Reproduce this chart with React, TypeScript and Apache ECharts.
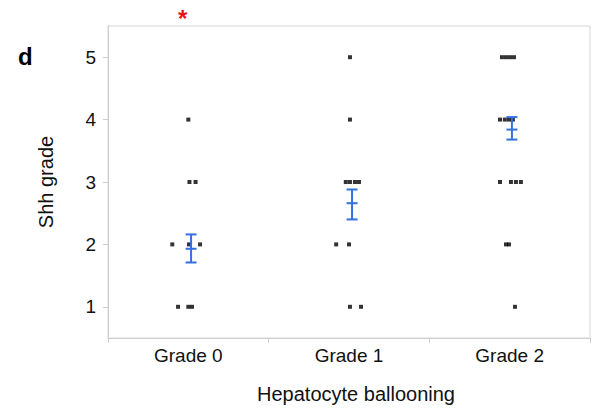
import React, { useEffect, useRef } from "react";
import * as echarts from "echarts";

const categories = ["Grade 0", "Grade 1", "Grade 2"];
const yTicks = [1, 2, 3, 4, 5];

// individual observations: [jittered x position (category index), Shh grade]
const grade0Points: [number, number][] = [
  [0.0, 4],
  [0.007, 3], [0.045, 3],
  [-0.1, 2], [0.004, 2], [0.073, 2],
  [-0.064, 1], [0.0, 1], [0.023, 1],
];
const grade1Points: [number, number][] = [
  [1.006, 5],
  [1.006, 4],
  [0.98, 3], [1.006, 3], [1.037, 3], [1.062, 3],
  [0.92, 2], [1.0, 2],
  [1.006, 1], [1.075, 1],
];
const grade2Points: [number, number][] = [
  [1.952, 5], [1.977, 5], [2.002, 5], [2.027, 5],
  [1.94, 4], [1.97, 4], [1.996, 4], [2.02, 4],
  [1.94, 3], [2.008, 3], [2.039, 3], [2.07, 3],
  [1.977, 2], [1.996, 2],
  [2.033, 1],
];

// mean ± SEM per group
const errX = [0.017, 1.019, 2.014];
const errMean = [1.93, 2.66, 3.84];
const errLow = [1.71, 2.4, 3.68];
const errHigh = [2.16, 2.88, 4.04];

const FONT = "Liberation Sans, Arial, sans-serif";

export default function App() {
  const ref = useRef<HTMLDivElement>(null);
  useEffect(() => {
    if (!ref.current) return;
    const chart = echarts.init(ref.current, null, { renderer: "svg" });
    const points = [...grade0Points, ...grade1Points, ...grade2Points];
    const errData = errX.map((x, i) => [x, errMean[i], errLow[i], errHigh[i]]);
    chart.setOption({
      animation: false,
      backgroundColor: "#fff",
      textStyle: { fontFamily: FONT },
      grid: {
        left: 108,
        top: 26,
        right: 10,
        bottom: 73,
        show: true,
        borderColor: "#d6d6d6",
        borderWidth: 1,
      },
      xAxis: [
        {
          type: "category",
          data: categories,
          boundaryGap: true,
          position: "bottom",
          name: "Hepatocyte ballooning",
          nameLocation: "middle",
          nameGap: 46,
          nameTextStyle: {
            fontSize: 20,
            color: "#111",
            fontFamily: FONT,
            padding: [0, 0, 0, 14],
          },
          axisLine: { show: true, onZero: false, lineStyle: { color: "#cfcfcf" } },
          axisTick: { show: true, length: 5, lineStyle: { color: "#cfcfcf" } },
          axisLabel: { fontSize: 19, color: "#111", margin: 8, fontFamily: FONT },
          splitLine: { show: false },
        },
        {
          type: "value",
          min: -0.5,
          max: 2.5,
          show: false,
          axisLine: { show: false, onZero: false },
        },
      ],
      yAxis: {
        type: "value",
        min: 0.5,
        max: 5.5,
        interval: 0.5,
        name: "Shh grade",
        nameLocation: "middle",
        nameGap: 52,
        nameRotate: 90,
        nameTextStyle: { fontSize: 20, color: "#111", fontFamily: FONT },
        axisLine: { show: true, onZero: false, lineStyle: { color: "#cfcfcf" } },
        axisTick: {
          show: true,
          length: 5,
          lineStyle: { color: "#cfcfcf" },
          customValues: yTicks,
        },
        axisLabel: {
          fontSize: 19,
          color: "#111",
          margin: 12,
          fontFamily: FONT,
          customValues: yTicks,
        },
        splitLine: { show: false },
      },
      graphic: [
        {
          type: "text",
          left: 18,
          top: 44,
          style: { text: "d", font: `bold 24px ${FONT}`, fill: "#000" },
        },
        {
          type: "text",
          left: 178,
          top: 6,
          style: { text: "*", font: `bold 24px ${FONT}`, fill: "#e8141c" },
        },
      ],
      series: [
        {
          type: "scatter",
          xAxisIndex: 1,
          data: points,
          symbol: "rect",
          symbolSize: 4,
          itemStyle: { color: "#000" },
          z: 3,
        },
        {
          type: "custom",
          xAxisIndex: 1,
          data: errData,
          z: 4,
          renderItem: (params: any, api: any) => {
            const x = api.value(0);
            const mean = api.coord([x, api.value(1)]);
            const lo = api.coord([x, api.value(2)]);
            const hi = api.coord([x, api.value(3)]);
            const hw = 5.5;
            const style = { stroke: "#3370e0", lineWidth: 2 };
            return {
              type: "group",
              children: [
                { type: "line", shape: { x1: lo[0], y1: lo[1], x2: hi[0], y2: hi[1] }, style },
                { type: "line", shape: { x1: hi[0] - hw, y1: hi[1], x2: hi[0] + hw, y2: hi[1] }, style },
                { type: "line", shape: { x1: lo[0] - hw, y1: lo[1], x2: lo[0] + hw, y2: lo[1] }, style },
                { type: "line", shape: { x1: mean[0] - hw, y1: mean[1], x2: mean[0] + hw, y2: mean[1] }, style },
              ],
            };
          },
        },
      ],
    });
    return () => chart.dispose();
  }, []);
  return (
    <div
      ref={ref}
      style={{ position: "fixed", left: 0, top: 0, width: 600, height: 411 }}
    />
  );
}
